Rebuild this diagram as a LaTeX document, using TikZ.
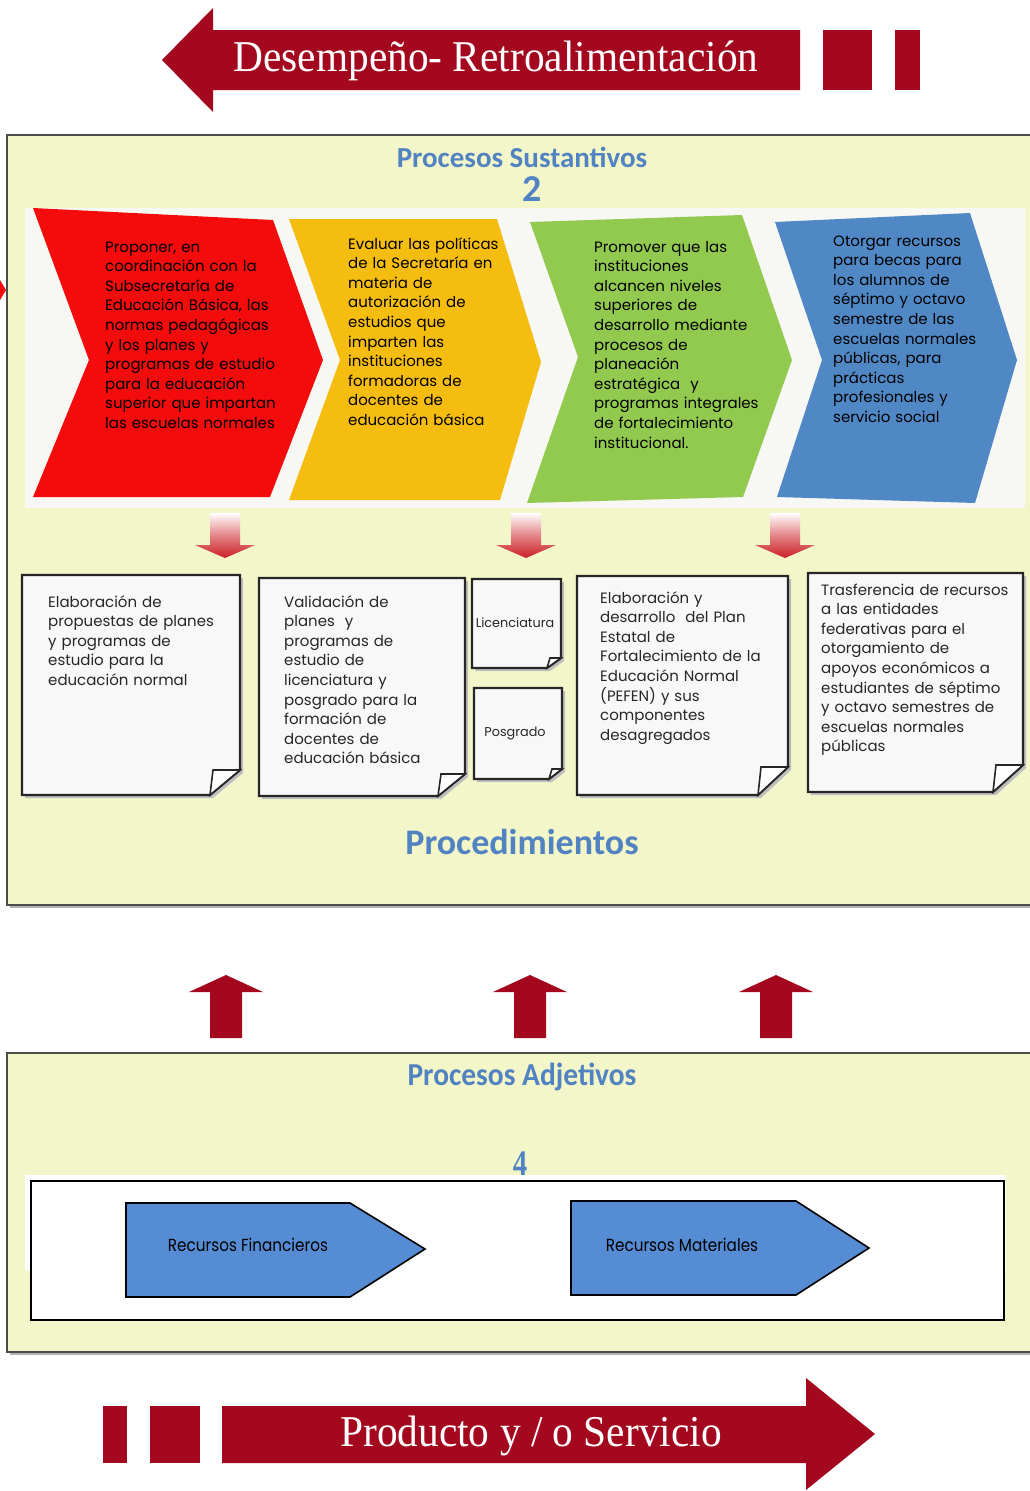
\documentclass[tikz,border=0pt]{standalone}
\usepackage{fontspec}
\setmainfont{Poppins}
\newfontfamily\titlefont{Carlito}
\newfontfamily\seriffont{Liberation Serif}
\definecolor{darkred}{HTML}{A3081F}
\definecolor{panelbg}{HTML}{F3F6C9}
\definecolor{bandbg}{HTML}{F7F7F3}
\definecolor{chred}{HTML}{F40C0C}
\definecolor{chyellow}{HTML}{F5BD0F}
\definecolor{chgreen}{HTML}{92C94F}
\definecolor{chblue}{HTML}{4F88C4}
\definecolor{titleblue}{HTML}{5183C2}
\definecolor{pentblue}{HTML}{558CD4}
\definecolor{docfill}{HTML}{F8F8F8}
\definecolor{arrowred}{HTML}{CC1F25}
\tikzset{
  panel/.style={fill=panelbg, draw=black!70, line width=2.5pt},
  bodytext/.style={font=\fontsize{15}{19.6}\selectfont, align=left, text width=260pt, inner sep=0pt, anchor=base west, text=black},
  doctext/.style={font=\fontsize{15}{19.6}\selectfont, align=left, text width=260pt, inner sep=0pt, anchor=base west, text=black!85},
  smalldoc/.style={font=\fontsize{12.8}{14}\selectfont, inner sep=0pt, text=black!85},
  docline/.style={fill=docfill, draw=black!85, line width=2.2pt, line join=miter},
  docshadow/.style={fill=black!25},
  titletext/.style={font=\titlefont\bfseries, text=titleblue, inner sep=0pt},
  arrowtext/.style={font=\seriffont\fontsize{44}{50}\selectfont, text=white, inner sep=0pt},
  penttext/.style={font=\fontsize{17.5}{20}\selectfont, inner sep=0pt, text=black},
  pent/.style={fill=pentblue, draw=black, line width=1.6pt},
}
\newcommand\docshape[6]{%
  \fill[docshadow] ({#1+3},{#2+3}) -- ({#3+3},{#2+3}) -- ({#3+3},{#4-#6+3}) -- ({#3-#5+3},{#4+3}) -- ({#1+3},{#4+3}) -- cycle;
  \draw[docline] (#1,#2) -- (#3,#2) -- (#3,{#4-#6}) -- ({#3-#5},#4) -- (#1,#4) -- cycle;
  \draw[docline, fill=white, line width=1.6pt] ({#3-#5+3},{#4-#6}) -- (#3,{#4-#6}) -- ({#3-#5},#4) -- cycle;
}
\begin{document}
\begin{tikzpicture}[x=1pt,y=-1pt]
\useasboundingbox (0,0) rectangle (1030,1491);
\clip (0,0) rectangle (1030,1491);
\fill[white] (0,0) rectangle (1030,1491);

% ---- top arrow
\fill[darkred] (162,60) -- (213,8) -- (213,30) -- (800,30) -- (800,90) -- (213,90) -- (213,112) -- cycle;
\fill[darkred] (823,30) rectangle (872,90);
\fill[darkred] (895,30) rectangle (920,90);
\node[arrowtext] (feedback) at (496,61) {\scalebox{0.94}[1]{Desempeño- Retroalimentación}};

% ---- upper panel
\fill[black!30] (10,138) rectangle (1048,908);
\draw[panel] (7,135) rectangle (1045,905);
\fill[chred] (0,280) -- (6,290) -- (0,300) -- cycle;
\node[titletext, font=\titlefont\bfseries\fontsize{29}{32}\selectfont] (sust) at (522,157) {Procesos Sustantivos};
\node[titletext, font=\titlefont\bfseries\fontsize{38}{40}\selectfont] (two) at (532,189) {2};

\fill[bandbg] (25,208) rectangle (1025,508);

\fill[chred] (33,208) -- (273,220) -- (323,360) -- (270,497) -- (33,497) -- (89,360) -- cycle;
\fill[chyellow] (289,219) -- (497,219) -- (541,362) -- (500,500) -- (289,500) -- (340,360) -- cycle;
\fill[chgreen] (530,222) -- (742,215) -- (792,360) -- (743,497) -- (527,503) -- (578,357) -- cycle;
\fill[chblue] (775,222) -- (970,213) -- (1017,360) -- (975,503) -- (777,497) -- (822,360) -- cycle;

\node[bodytext] (t1) at (105,252) {Proponer, en\\coordinación con la\\Subsecretaría de\\Educación Básica, las\\normas pedagógicas\\y los planes y\\programas de estudio\\para la educación\\superior que impartan\\las escuelas normales};
\node[bodytext] (t2) at (348,249) {Evaluar las políticas\\de la Secretaría en\\materia de\\autorización de\\estudios que\\imparten las\\instituciones\\formadoras de\\docentes de\\educación básica};
\node[bodytext] (t3) at (594,252) {Promover que las\\instituciones\\alcancen niveles\\superiores de\\desarrollo mediante\\procesos de\\planeación\\estratégica~ y\\programas integrales\\de fortalecimiento\\institucional.};
\node[bodytext] (t4) at (833,246) {Otorgar recursos\\para becas para\\los alumnos de\\séptimo y octavo\\semestre de las\\escuelas normales\\públicas, para\\prácticas\\profesionales y\\servicio social};

% down arrows
\foreach \cx in {225,526,785} {
  \shade[top color=white, bottom color=arrowred, middle color=arrowred!55]
    ({\cx-15},513) -- ({\cx+15},513) -- ({\cx+15},545) -- ({\cx+30},545) -- (\cx,558) -- ({\cx-30},545) -- ({\cx-15},545) -- cycle;
}

% documents
\docshape{22}{575}{240}{795}{30}{25}
\docshape{259}{578}{465}{796}{27}{22}
\docshape{472}{579}{561}{668}{14}{10}
\docshape{474}{688}{562}{779}{13}{10}
\docshape{577}{576}{788}{795}{30}{28}
\docshape{808}{573}{1023}{792}{30}{27}

\node[doctext] (d1) at (48,607) {Elaboración de\\propuestas de planes\\y programas de\\estudio para la\\educación normal};
\node[doctext] (d2) at (284,607) {Validación de\\planes~ y\\programas de\\estudio de\\licenciatura y\\posgrado para la\\formación de\\docentes de\\educación básica};
\node[smalldoc] (lic) at (515,623) {Licenciatura};
\node[smalldoc] (pos) at (515,733) {Posgrado};
\node[doctext] (d3) at (600,603) {Elaboración y\\desarrollo~ del Plan\\Estatal de\\Fortalecimiento de la\\Educación Normal\\(PEFEN) y sus\\componentes\\desagregados};
\node[doctext] (d4) at (821,595) {Trasferencia de recursos\\a las entidades\\federativas para el\\otorgamiento de\\apoyos económicos a\\estudiantes de séptimo\\y octavo semestres de\\escuelas normales\\públicas};

\node[titletext, font=\titlefont\bfseries\fontsize{36}{40}\selectfont] (proc) at (522,842) {Procedimientos};

% up arrows
\foreach \cx in {226,530,776} {
  \fill[darkred] (\cx,975) -- ({\cx+37},992) -- ({\cx+16},992) -- ({\cx+16},1038) -- ({\cx-16},1038) -- ({\cx-16},992) -- ({\cx-37},992) -- cycle;
}

% ---- lower panel
\fill[black!30] (10,1056) rectangle (1048,1355);
\draw[panel] (7,1053) rectangle (1045,1352);
\node[titletext, font=\titlefont\bfseries\fontsize{32}{36}\selectfont] (adj) at (522,1077) {\scalebox{0.92}[1]{Procesos Adjetivos}};
\node[titletext, font=\seriffont\bfseries\fontsize{36}{40}\selectfont] (four) at (520,1164) {\scalebox{0.8}[1]{4}};
\fill[white] (25,1175) rectangle (1006,1270);
\draw[fill=white, line width=2pt] (31,1181) rectangle (1004,1320);

\draw[pent] (126,1203) -- (350,1203) -- (425,1249) -- (350,1297) -- (126,1297) -- cycle;
\draw[pent] (571,1201) -- (796,1201) -- (869,1248) -- (796,1295) -- (571,1295) -- cycle;
\node[penttext] (rf) at (248,1245) {\scalebox{0.87}[1]{Recursos Financieros}};
\node[penttext] (rm) at (682,1245) {\scalebox{0.87}[1]{Recursos Materiales}};

% ---- bottom arrow
\fill[darkred] (103,1406) rectangle (127,1463);
\fill[darkred] (150,1406) rectangle (200,1463);
\fill[darkred] (222,1406) -- (806,1406) -- (806,1378) -- (875,1434) -- (806,1490) -- (806,1463) -- (222,1463) -- cycle;
\node[arrowtext] (product) at (531,1436) {\scalebox{0.94}[1]{Producto y / o Servicio}};
\end{tikzpicture}
\end{document}
